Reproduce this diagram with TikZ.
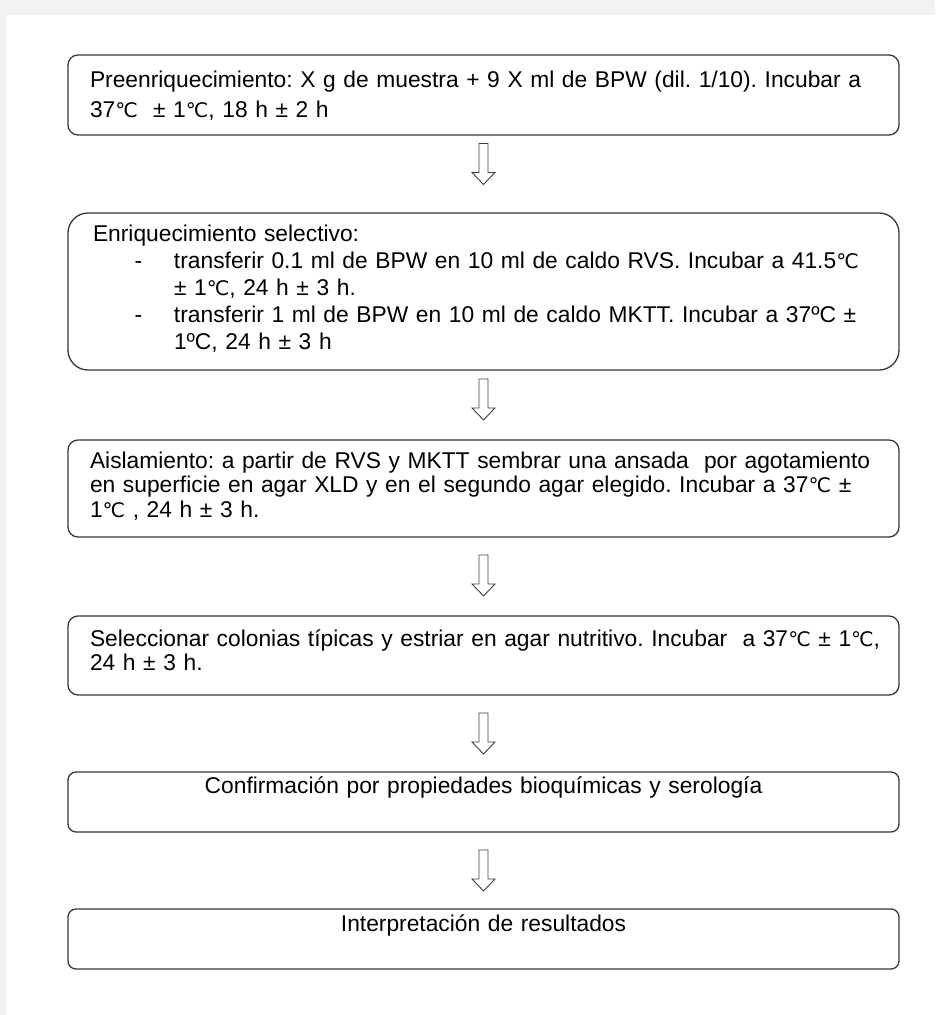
\documentclass[tikz,border=0pt]{standalone}
\usepackage{fontspec}
\setmainfont{Liberation Sans}
\newfontfamily\gradfont{DejaVu Sans}[Scale=0.88]
\newcommand{\gc}{{\gradfont ℃}}
\newcommand{\linea}{\hspace*{16.5pt}}
\frenchspacing
\usetikzlibrary{positioning,calc}

\begin{document}
\begin{tikzpicture}[x=1pt,y=-1pt,node distance=77pt,
    paso/.style={draw=black!78,line width=1.3pt,rounded corners=10pt,outer sep=0pt,
      inner xsep=5.5pt,inner ysep=0pt,text width=820pt,align=left,
      font=\fontsize{22.8}{#1}\selectfont},
    paso/.default=24,
    flecha/.style={draw=black!75,line width=0.9pt,fill=white,
      to path={($(\tikztostart)+(-4.5,#1)$) -- ++(0,29) -- ++(-7,0)
        -- ++(11.5,12) -- ++(11.5,-12) -- ++(-7,0) -- ++(0,-29) -- cycle}}]

    \useasboundingbox (0,0) rectangle (935,1015);
    \fill[black!5] (0,0) rectangle (935,1015);
    \fill[white] (6,15) rectangle (935,1015);

    \node[paso=30,text height=32pt,text depth=48pt,anchor=north] (b1) at (483.5,55)
        {\linea Preenriquecimiento: X g de muestra + 9 X ml de BPW (dil. 1/10). Incubar a\\
         \linea 37\gc\ \ ± 1\gc, 18 h ± 2 h};

    \node[paso=27,rounded corners=20pt,text height=28pt,text depth=129pt] (b2) [below=78pt of b1]
        {\linea\hspace*{3pt}Enriquecimiento selectivo:\\
         \linea\hspace*{44.5pt}\makebox[39.5pt][l]{-}transferir 0.1 ml de BPW en 10 ml de caldo RVS. Incubar a 41.5\gc\\
         \linea\hspace*{84pt}± 1\gc, 24 h ± 3 h.\\
         \linea\hspace*{44.5pt}\makebox[39.5pt][l]{-}transferir 1 ml de BPW en 10 ml de caldo MKTT. Incubar a 37ºC ±\\
         \linea\hspace*{84pt}1ºC, 24 h ± 3 h};

    \node[paso=24.5,text height=28pt,text depth=69pt] (b3) [below=70pt of b2]
        {\linea Aislamiento: a partir de RVS y MKTT sembrar una ansada \ por agotamiento\\
         \linea en superficie en agar XLD y en el segundo agar elegido. Incubar a 37\gc\ ±\\
         \linea 1\gc\ , 24 h ± 3 h.};

    \node[paso,text height=30pt,text depth=49pt] (b4) [below=79pt of b3]
        {\linea Seleccionar colonias típicas y estriar en agar nutritivo. Incubar \ a 37\gc\ ± 1\gc,\\
         \linea 24 h ± 3 h.};

    \node[paso,rounded corners=8pt,align=center,text height=21pt,text depth=39pt] (b5) [below=of b4]
        {Confirmación por propiedades bioquímicas y serología};

    \node[paso,rounded corners=8pt,align=center,text height=22pt,text depth=38pt] (b6) [below=of b5]
        {Interpretación de resultados};

    \draw[flecha=8.5] (b1.south) to (b2.north);
    \draw[flecha=9] (b2.south) to (b3.north);
    \draw[flecha=18] (b3.south) to (b4.north);
    \draw[flecha=18] (b4.south) to (b5.north);
    \draw[flecha=18] (b5.south) to (b6.north);

\end{tikzpicture}
\end{document}
